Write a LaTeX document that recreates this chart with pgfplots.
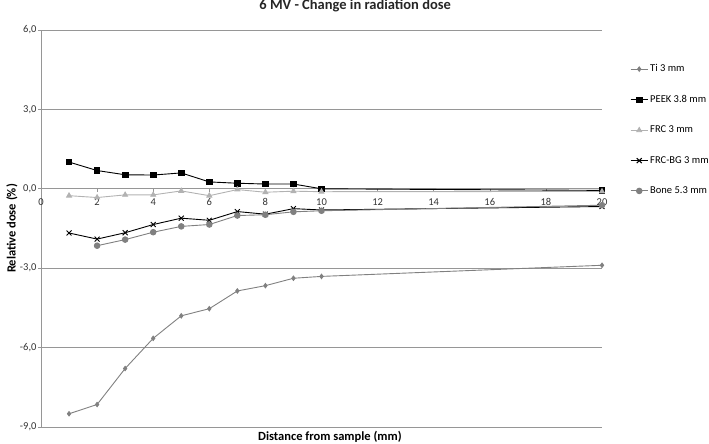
\documentclass[border=0pt]{standalone}
\usepackage{pgfplots}
\pgfplotsset{compat=1.18}
\usepackage{fontspec}
\setmainfont{Carlito}

\definecolor{tigray}{RGB}{128,128,128}
\definecolor{frcgray}{RGB}{178,178,178}
\definecolor{gridgray}{RGB}{150,150,150}

\begin{document}
\begin{tikzpicture}
\begin{axis}[
  scale only axis,
  width=561pt, height=397pt,
  xmin=0, xmax=20, ymin=-9, ymax=6,
  axis x line=middle, axis y line=left,
  axis line style={-, gridgray, line width=0.8pt},
  hide obscured x ticks=false,
  xtick={0,2,...,20}, ytick={-9,-6,-3,0,3,6},
  tick align=outside, major tick length=3pt,
  tick style={gridgray, line width=0.6pt},
  ymajorgrids, grid style={gridgray, line width=0.8pt},
  /pgf/number format/assume math mode=true,
  ticklabel style={font=\fontsize{10.5}{12}\selectfont, text=black!80},
  yticklabel style={xshift=2pt, /pgf/number format/.cd, fixed, fixed zerofill, precision=1, use comma},
  xticklabel style={yshift=-3pt},
  title={\textbf{6 MV - Change in radiation dose}},
  title style={at={(0.56,1)}, anchor=base, yshift=14pt, font=\fontsize{14.5}{16}\selectfont, text=black!85},
  xlabel={\textbf{Distance from sample (mm)}},
  xlabel style={at={(axis description cs:0.515,0)}, anchor=center, yshift=-10pt, font=\fontsize{12.5}{14}\selectfont},
  ylabel={\textbf{Relative dose (\%)}},
  ylabel style={at={(axis description cs:-0.052,0.5)}, anchor=center, font=\fontsize{12.5}{14}\selectfont},
  legend style={draw=none, at={(1.05,0.918)}, anchor=north west,
    font=\fontsize{10.5}{12}\selectfont, row sep=18pt, inner sep=0pt},
  legend cell align=left,
]
\addplot[tigray, line width=0.9pt, mark=diamond*, mark size=2.2pt] coordinates {
  (1,-8.50) (2,-8.15) (3,-6.79) (4,-5.65) (5,-4.80) (6,-4.53)
  (7,-3.86) (8,-3.66) (9,-3.38) (10,-3.31) (20,-2.89)
};
\addlegendentry{Ti 3 mm}
\addplot[black, line width=0.9pt, mark=square*, mark size=2.8pt] coordinates {
  (1,1.01) (2,0.69) (3,0.53) (4,0.52) (5,0.60) (6,0.26)
  (7,0.21) (8,0.18) (9,0.18) (10,0.0) (20,-0.06)
};
\addlegendentry{PEEK 3.8 mm}
\addplot[frcgray, line width=0.9pt, mark=triangle*, mark size=2.8pt] coordinates {
  (1,-0.26) (2,-0.33) (3,-0.23) (4,-0.23) (5,-0.08) (6,-0.26)
  (7,-0.03) (8,-0.13) (9,-0.09) (10,-0.11) (20,-0.10)
};
\addlegendentry{FRC 3 mm}
\addplot[black, line width=0.9pt, mark=x, mark size=3.5pt, mark options={line width=0.9pt}] coordinates {
  (1,-1.67) (2,-1.90) (3,-1.66) (4,-1.35) (5,-1.11) (6,-1.19)
  (7,-0.86) (8,-0.96) (9,-0.75) (10,-0.80) (20,-0.67)
};
\addlegendentry{FRC-BG 3 mm}
\addplot[tigray, line width=0.9pt, mark=*, mark size=2.8pt] coordinates {
  (2,-2.15) (3,-1.92) (4,-1.64) (5,-1.42) (6,-1.35)
  (7,-1.01) (8,-0.98) (9,-0.87) (10,-0.83) (20,-0.62)
};
\addlegendentry{Bone 5.3 mm}
\end{axis}
\pgfresetboundingbox
\path[use as bounding box] (-41pt,-17pt) rectangle (668pt,427pt);
\end{tikzpicture}
\end{document}
